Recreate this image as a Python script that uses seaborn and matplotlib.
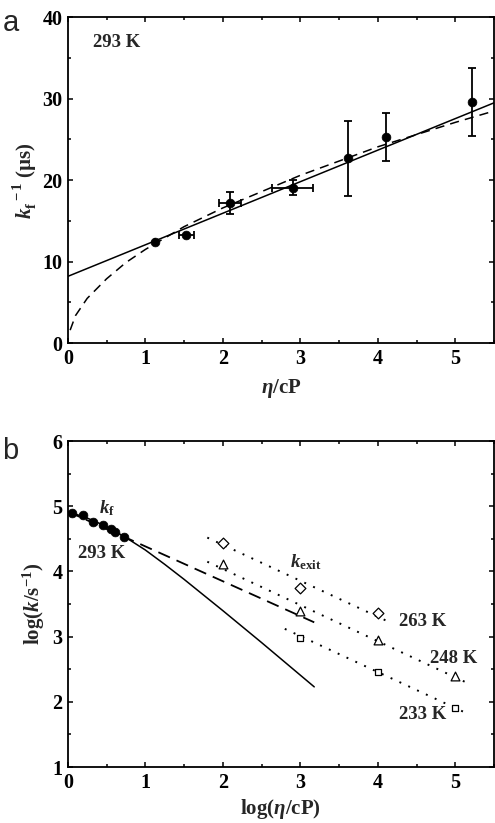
import numpy as np
import pandas as pd
import matplotlib
matplotlib.use('Agg')
import matplotlib.pyplot as plt
import matplotlib.ticker as mticker
import seaborn as sns

# ---- panel a: 1/kf vs viscosity at 293 K ----
eta = [1.12, 1.53, 2.09, 2.90, 3.62, 4.10, 5.21]
inv_kf = [12.4, 13.3, 17.2, 19.1, 22.7, 25.3, 29.6]
inv_kf_err = [0.0, 0.0, 1.3, 0.9, 4.6, 2.9, 4.15]
eta_err = [0.0, 0.1, 0.14, 0.26, 0.0, 0.0, 0.0]

# fits
lin_x = [0.0, 5.5]
lin_y = [8.2, 29.5]
pow_x = [0.03, 0.1, 0.25, 0.5, 0.75, 1.0, 1.5, 2.0, 3.0, 4.0, 5.0, 5.5]
pow_y = [1.6, 3.4, 5.5, 7.9, 9.9, 11.5, 14.3, 16.6, 20.6, 24.1, 27.1, 28.5]

# ---- panel b: log k vs log viscosity ----
log_eta_f = [0.05, 0.19, 0.32, 0.46, 0.56, 0.61, 0.72]
log_kf = [4.90, 4.87, 4.76, 4.72, 4.65, 4.60, 4.53]

solid_x = [0.0, 0.25, 0.5, 0.75, 1.0, 1.25, 1.5, 2.0, 2.5, 3.0, 3.18]
solid_y = [4.92, 4.82, 4.69, 4.52, 4.33, 4.11, 3.88, 3.40, 2.91, 2.41, 2.23]
dash_x = [0.0, 3.18]
dash_y = [4.92, 3.22]

x_263 = [2.0, 3.0, 4.0]
y_263 = [4.44, 3.74, 3.36]
x_248 = [2.0, 3.0, 4.0, 5.0]
y_248 = [4.11, 3.39, 2.95, 2.40]
x_233 = [3.0, 4.0, 5.0]
y_233 = [2.98, 2.46, 1.91]

# dotted guide lines (endpoints)
dot_263 = ([1.80, 4.12], [4.52, 3.24])
dot_248 = ([1.80, 5.21], [4.15, 2.26])
dot_233 = ([2.80, 5.12], [3.12, 1.84])

sns.set_theme(style='ticks')
plt.rcParams['font.family'] = ['Liberation Serif', 'DejaVu Serif']
plt.rcParams['font.weight'] = 'bold'
plt.rcParams['axes.labelweight'] = 'bold'
plt.rcParams['mathtext.fontset'] = 'custom'
plt.rcParams['mathtext.rm'] = 'Liberation Serif:bold'
plt.rcParams['mathtext.it'] = 'Liberation Serif:bold:italic'
plt.rcParams['mathtext.bf'] = 'Liberation Serif:bold'
plt.rcParams['axes.linewidth'] = 1.3
plt.rcParams['axes.edgecolor'] = 'black'


def style_axes(ax, xmaj, xmin, ymaj, ymin):
    ax.xaxis.set_major_locator(mticker.MultipleLocator(xmaj))
    ax.xaxis.set_minor_locator(mticker.MultipleLocator(xmin))
    ax.yaxis.set_major_locator(mticker.MultipleLocator(ymaj))
    ax.yaxis.set_minor_locator(mticker.MultipleLocator(ymin))
    ax.tick_params(which='both', direction='in', top=True, right=True,
                   color='black', width=1.1)
    ax.tick_params(which='major', length=3.5, labelsize=14.5, colors='black',
                   pad=4)
    ax.tick_params(which='minor', length=2.2)
    for lab in ax.get_xticklabels() + ax.get_yticklabels():
        lab.set_fontweight('bold')


fig = plt.figure(figsize=(4.95, 8.23), dpi=100)
ax1 = fig.add_axes([0.137, 0.583, 0.861, 0.396])
ax2 = fig.add_axes([0.137, 0.068, 0.861, 0.396])

# ---- panel a ----
sns.lineplot(x=lin_x, y=lin_y, ax=ax1, color='black', linewidth=1.1)
sns.lineplot(x=pow_x, y=pow_y, ax=ax1, color='black', linewidth=1.1,
             linestyle=(0, (6, 4)))
ax1.errorbar(eta, inv_kf, yerr=inv_kf_err, xerr=eta_err, fmt='none',
             ecolor='black', elinewidth=1.3, capsize=3, capthick=1.3)
sns.scatterplot(x=eta, y=inv_kf, ax=ax1, color='black', s=40,
                edgecolor='black', zorder=5)
ax1.set_xlim(0, 5.5)
ax1.set_ylim(0, 40)
style_axes(ax1, 1, 0.5, 10, 5)
ax1.set_xlabel(r'$\eta$/cP', fontsize=15, labelpad=6)
ax1.set_ylabel(r'$k_\mathrm{f}^{\ -1}$ (µs)', fontsize=15, labelpad=2)
ax1.text(0.33, 36.9, '293 K', fontsize=13.5, fontweight='bold',
         ha='left', va='center')
fig.text(0.005, 0.972, 'a', fontsize=21, family='Liberation Sans',
         fontweight='normal', va='center')

# ---- panel b ----
sns.lineplot(x=solid_x, y=solid_y, ax=ax2, color='black', linewidth=1.1)
sns.lineplot(x=dash_x, y=dash_y, ax=ax2, color='black', linewidth=1.3,
             linestyle=(0, (7, 4)))
for xs, ys in (dot_263, dot_248, dot_233):
    sns.lineplot(x=xs, y=ys, ax=ax2, color='black', linewidth=1.4,
                 linestyle=(0, (1, 4)))
sns.scatterplot(x=log_eta_f, y=log_kf, ax=ax2, color='black', s=40,
                edgecolor='black', zorder=5)
ax2.scatter(x_263, y_263, marker='D', s=30, facecolor='white',
            edgecolor='black', linewidth=0.9, zorder=5)
ax2.scatter(x_248, y_248, marker='^', s=40, facecolor='white',
            edgecolor='black', linewidth=0.9, zorder=5)
ax2.scatter(x_233, y_233, marker='s', s=25, facecolor='white',
            edgecolor='black', linewidth=0.9, zorder=5)
ax2.set_xlim(0, 5.5)
ax2.set_ylim(1, 6)
style_axes(ax2, 1, 0.5, 1, 0.5)
ax2.set_xlabel(r'log($\eta$/cP)', fontsize=15, labelpad=3)
ax2.set_ylabel(r'log($k$/s$^{-1}$)', fontsize=15, labelpad=4)

ax2.text(0.40, 4.97, r'$k_\mathrm{f}$', fontsize=13.5, ha='left', va='center')
ax2.text(0.13, 4.27, '293 K', fontsize=13.5, ha='left', va='center')
ax2.text(2.87, 4.15, r'$k_\mathrm{exit}$', fontsize=13.5, ha='left', va='center')
ax2.text(4.27, 3.24, '263 K', fontsize=13.5, ha='left', va='center')
ax2.text(4.68, 2.67, '248 K', fontsize=13.5, ha='left', va='center')
ax2.text(4.27, 1.80, '233 K', fontsize=13.5, ha='left', va='center')
fig.text(0.005, 0.452, 'b', fontsize=21, family='Liberation Sans',
         fontweight='normal', va='center')

fig.savefig('out.png', dpi=100)
